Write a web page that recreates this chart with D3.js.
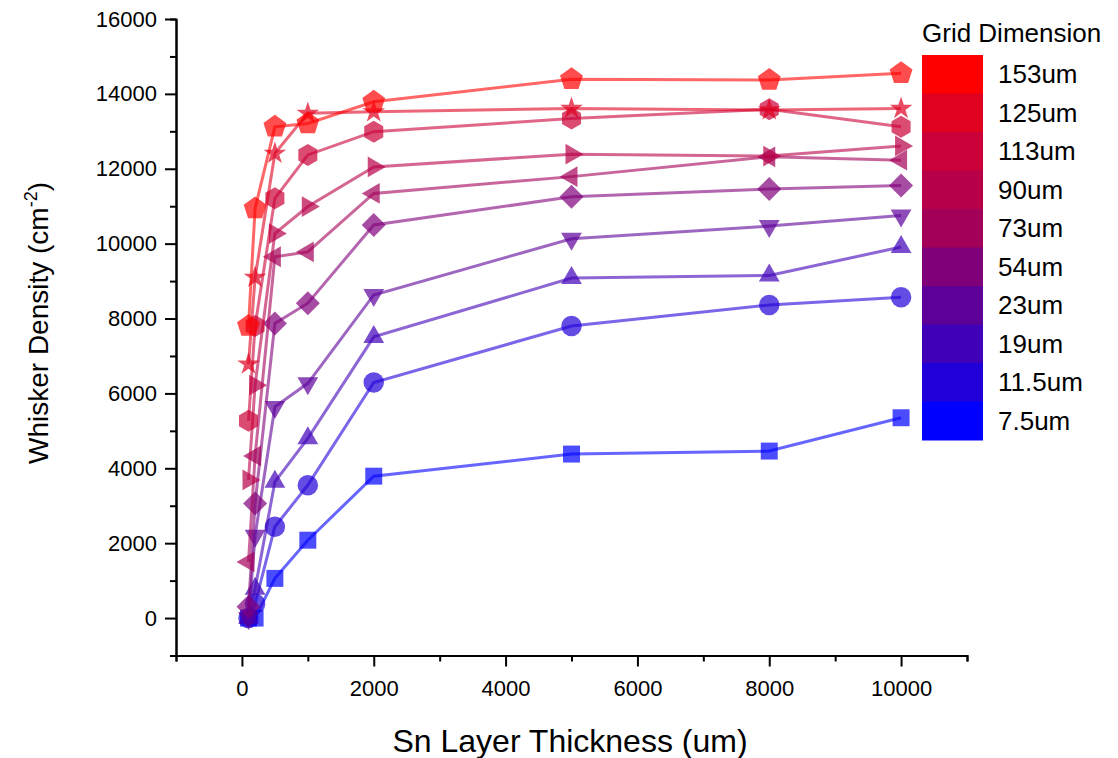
<!DOCTYPE html>
<html>
<head>
<meta charset="utf-8">
<script src="https://cdn.jsdelivr.net/npm/d3@7"></script>
<style>
  body { margin: 0; background: #fff; }
  svg { font-family: "Liberation Sans", Arial, sans-serif; }
</style>
</head>
<body>
<svg id="chart" width="1118" height="758"></svg>
<script>
// Sn layer thickness (um), shared x values
const thickness = [100, 200, 500, 1000, 2000, 5000, 8000, 10000];

// grid dimensions, top of legend first
const gridLabels = ['153um', '125um', '113um', '90um', '73um', '54um', '23um', '19um', '11.5um', '7.5um'];
const gridColors = ['#ff0000', '#e0001f', '#cc0038', '#b80048', '#a3005a', '#80007a', '#5c0098', '#3f00b8', '#2000d8', '#0000ff'];
const gridShapes = ['pentagon', 'star', 'hexagon', 'triRight', 'triLeft', 'diamond', 'triDown', 'triUp', 'circle', 'square'];

// whisker density (cm^-2), one array per grid dimension
const d153 = [7800, 10940, 13120, 13210, 13790, 14390, 14370, 14550];
const d125 = [6780, 9100, 12410, 13480, 13520, 13610, 13570, 13610];
const d113 = [5270, 7800, 11210, 12370, 12990, 13340, 13590, 13120];
const d90 = [3690, 6220, 10270, 10990, 12050, 12390, 12340, 12610];
const d73 = [1500, 4330, 9650, 9780, 11340, 11790, 12320, 12230];
const d54 = [300, 3060, 7870, 8410, 10500, 11250, 11460, 11550];
const d23 = [0, 2200, 5640, 6270, 8630, 10130, 10470, 10750];
const d19 = [0, 780, 3640, 4800, 7510, 9080, 9150, 9910];
const d11 = [0, 380, 2440, 3550, 6290, 7800, 8360, 8570];
const d7 = [0, 0, 1060, 2080, 3790, 4380, 4460, 5350];
const densities = [d153, d125, d113, d90, d73, d54, d23, d19, d11, d7];

const yMajor = d3.range(0, 16001, 2000);
const yMinor = d3.range(-1000, 16000, 2000);
const xMajor = d3.range(0, 10001, 2000);
const xMinor = d3.range(-1000, 11001, 2000);

const svg = d3.select('#chart');

const x = d3.scaleLinear().domain([-1000, 11000]).range([176, 967]);
const y = d3.scaleLinear().domain([-1000, 16000]).range([655.5, 19]);

// marker outlines
function polygon(n, r, rot) {
    const pts = [];
    for (let i = 0; i < n; i++) {
        const a = rot + i * 2 * Math.PI / n;
        pts.push([r * Math.cos(a), r * Math.sin(a)]);
    }
    return 'M' + pts.map(p => p.join(',')).join('L') + 'Z';
}
function markerPath(shape) {
    switch (shape) {
        case 'pentagon': return polygon(5, 12, -Math.PI / 2);
        case 'hexagon': return polygon(6, 11, -Math.PI / 2);
        case 'triUp': return polygon(3, 12, -Math.PI / 2);
        case 'triDown': return polygon(3, 12, Math.PI / 2);
        case 'triRight': return polygon(3, 12, 0);
        case 'triLeft': return polygon(3, 12, Math.PI);
        case 'diamond': return polygon(4, 12, 0);
        case 'square': return polygon(4, 12, Math.PI / 4);
        case 'star': return d3.symbol().type(d3.symbolStar).size(160)();
        default: return d3.symbol().type(d3.symbolCircle).size(330)();
    }
}

// axes
svg.append('g')
    .attr('transform', `translate(${x(-1000)},0)`)
    .call(d3.axisLeft(y).tickValues(yMinor).tickSize(6).tickFormat(''));
svg.append('g')
    .attr('transform', `translate(${x(-1000)},0)`)
    .call(d3.axisLeft(y).tickValues(yMajor).tickSize(11).tickSizeOuter(0)
        .tickPadding(8).tickFormat(d3.format('d')));
svg.append('g')
    .attr('transform', `translate(0,${y(-1000)})`)
    .call(d3.axisBottom(x).tickValues(xMinor).tickSize(6).tickFormat(''));
svg.append('g')
    .attr('transform', `translate(0,${y(-1000)})`)
    .call(d3.axisBottom(x).tickValues(xMajor).tickSize(11).tickSizeOuter(0)
        .tickPadding(14).tickFormat(d3.format('d')));

svg.selectAll('.domain').attr('stroke', '#000').attr('stroke-width', 2);
svg.selectAll('.tick line').attr('stroke', '#000').attr('stroke-width', 2);
svg.selectAll('.tick text').attr('font-size', 22).attr('fill', '#000')
    .attr('font-family', '"Liberation Sans", Arial, sans-serif');

// axis titles
svg.append('text')
    .attr('x', 570).attr('y', 752)
    .attr('text-anchor', 'middle')
    .attr('font-size', 32)
    .text('Sn Layer Thickness (um)');

const yTitle = svg.append('text')
    .attr('transform', 'translate(48,323) rotate(-90)')
    .attr('text-anchor', 'middle')
    .attr('font-size', 28);
yTitle.append('tspan').text('Whisker Density (cm');
yTitle.append('tspan').attr('font-size', 18).attr('dy', -11).text('-2');
yTitle.append('tspan').attr('dy', 11).text(')');

// series lines then markers
const line = d3.line()
    .x((d, i) => x(thickness[i]))
    .y(d => y(d));

const series = svg.append('g').attr('class', 'series');
densities.slice().reverse().forEach((vals, k) => {
    const i = densities.length - 1 - k;
    const g = series.append('g');
    g.append('path')
        .attr('d', line(vals))
        .attr('fill', 'none')
        .attr('stroke', gridColors[i])
        .attr('stroke-opacity', 0.6)
        .attr('stroke-width', 3);
    g.selectAll('path.marker')
        .data(vals)
        .enter()
        .append('path')
        .attr('class', 'marker')
        .attr('d', markerPath(gridShapes[i]))
        .attr('transform', (d, j) => `translate(${x(thickness[j])},${y(d)})`)
        .attr('fill', gridColors[i])
        .attr('fill-opacity', 0.7);
});

// legend colour bar
const legend = svg.append('g').attr('class', 'legend');
legend.append('text')
    .attr('x', 922).attr('y', 42)
    .attr('font-size', 26)
    .text('Grid Dimension');

const bandY = d3.scaleBand().domain(gridLabels).range([55, 440]);
legend.selectAll('rect')
    .data(gridLabels)
    .enter()
    .append('rect')
    .attr('x', 922)
    .attr('y', d => bandY(d))
    .attr('width', 61)
    .attr('height', bandY.bandwidth() + 0.5)
    .attr('fill', (d, i) => gridColors[i]);

legend.selectAll('text.lab')
    .data(gridLabels)
    .enter()
    .append('text')
    .attr('class', 'lab')
    .attr('x', 998)
    .attr('y', d => bandY(d) + bandY.bandwidth() / 2 + 9)
    .attr('font-size', 26)
    .text(d => d);
</script>
</body>
</html>
